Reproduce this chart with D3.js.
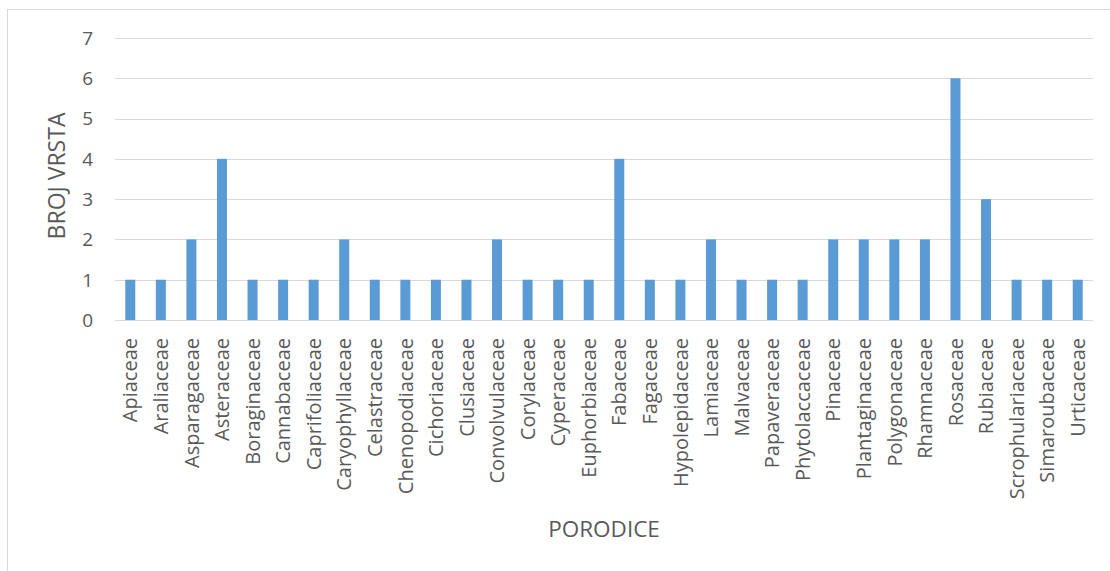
<!DOCTYPE html>
<html><head><meta charset="utf-8">
<script src="https://cdn.jsdelivr.net/npm/d3@7"></script>
<style>body{margin:0;background:#fff}svg{display:block}text{font-family:"Open Sans",sans-serif;fill:#595959}</style>
</head><body>
<svg id="c" width="1110" height="571"></svg>
<script>
const categories = ["Apiaceae","Araliaceae","Asparagaceae","Asteraceae","Boraginaceae","Cannabaceae","Caprifoliaceae","Caryophyllaceae","Celastraceae","Chenopodiaceae","Cichoriaceae","Clusiaceae","Convolvulaceae","Corylaceae","Cyperaceae","Euphorbiaceae","Fabaceae","Fagaceae","Hypolepidaceae","Lamiaceae","Malvaceae","Papaveraceae","Phytolaccaceae","Pinaceae","Plantaginaceae","Polygonaceae","Rhamnaceae","Rosaceae","Rubiaceae","Scrophulariaceae","Simaroubaceae","Urticaceae"];
const values = [1,1,2,4,1,1,1,2,1,1,1,1,2,1,1,1,4,1,1,2,1,1,1,2,2,2,2,6,3,1,1,1];
const yTicks = [0,1,2,3,4,5,6,7];
const yTitle = "BROJ VRSTA";
const xTitle = "PORODICE";

const svg = d3.select("#c");
svg.append("rect").attr("x",7.5).attr("y",9.5).attr("width",1200).attr("height",700)
  .attr("fill","none").attr("stroke","#d9d9d9");

const x = d3.scaleBand().domain(categories).range([115,1093]);
const y = d3.scaleLinear().domain([0,7]).range([320,38]);

const g = svg.append("g");
g.selectAll("line.grid").data(yTicks).enter().append("line")
  .attr("x1",115).attr("x2",1093).attr("y1",d=>Math.round(y(d))+0.5).attr("y2",d=>Math.round(y(d))+0.5)
  .attr("stroke","#d9d9d9").attr("stroke-width",1);

const barW = 10;
g.selectAll("rect.bar").data(values).enter().append("rect")
  .attr("x",(d,i)=>x(categories[i])+x.bandwidth()/2-barW/2)
  .attr("width",barW)
  .attr("y",d=>y(d)).attr("height",d=>y(0)-y(d))
  .attr("fill","#5b9bd5");

g.selectAll("text.yt").data(yTicks).enter().append("text")
  .attr("x",93).attr("y",d=>y(d)).attr("dy","0.36em").attr("text-anchor","end")
  .style("font-size","19px").text(d=>d);

g.selectAll("text.xt").data(categories).enter().append("text")
  .attr("transform",d=>`translate(${x(d)+x.bandwidth()/2},338) rotate(-90)`)
  .attr("dy","0.36em").attr("text-anchor","end")
  .style("font-size","20px").text(d=>d);

svg.append("text").attr("transform","translate(57,176) rotate(-90)")
  .attr("text-anchor","middle").attr("dy","0.36em").style("font-size","23px").text(yTitle);
svg.append("text").attr("x",604).attr("y",537).attr("text-anchor","middle")
  .style("font-size","22.5px").text(xTitle);
</script>
</body></html>
